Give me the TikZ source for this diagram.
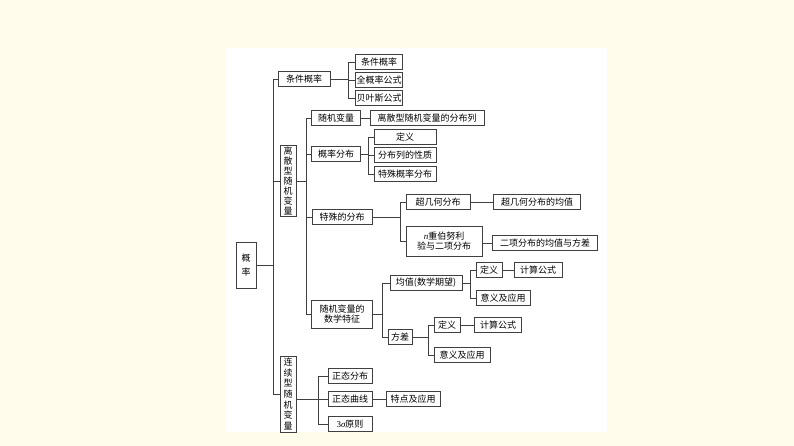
\documentclass[tikz,border=0pt]{standalone}
\usepackage{fontspec}
\setmainfont{Liberation Serif}
\newfontfamily\cjk{Noto Sans CJK SC}
\newfontfamily\lsf{Liberation Serif}
\usetikzlibrary{shadows}
\definecolor{cream}{HTML}{FFFCEB}
\begin{document}
\begin{tikzpicture}[x=1pt,y=-1pt,
  bx/.style={draw=black!75,line width=0.6pt,fill=white,inner sep=0.5pt,font=\cjk\fontsize{9}{10.5}\selectfont,
    drop shadow={shadow xshift=0.8pt,shadow yshift=-0.8pt,fill=black!45,opacity=1},minimum height=15pt,align=center},
  ln/.style={draw=black!75,line width=0.7pt}]
\useasboundingbox (0,0) rectangle (794,446);
\fill[cream] (0,0) rectangle (794,446);
\fill[white] (226,48) rectangle (607,432);
% root
\node[bx,minimum width=20pt,minimum height=46pt,text width=10pt] (root) at (246,265) {概\\[3pt]率};
\node[bx,minimum width=52pt] (tj) at (304,79) {条件概率};
\node[bx,minimum width=47pt] (tj1) at (379,62) {条件概率};
\node[bx,minimum width=47pt] (tj2) at (379,80) {全概率公式};
\node[bx,minimum width=47pt] (tj3) at (379,98) {贝叶斯公式};
\node[bx,minimum width=16pt,minimum height=71pt,text width=9pt,inner sep=0pt,font=\cjk\fontsize{9}{10}\selectfont] (ls) at (288,181) {离\\散\\型\\随\\机\\变\\量};
\node[bx,minimum width=16pt,minimum height=76pt,text width=9pt,inner sep=0pt,font=\cjk\fontsize{9}{10.6}\selectfont] (lx) at (288,394) {连\\续\\型\\随\\机\\变\\量};
% discrete
\node[bx,minimum width=49pt] (sj) at (336,118) {随机变量};
\node[bx,minimum width=114pt] (sj1) at (427,118) {离散型随机变量的分布列};
\node[bx,minimum width=49pt] (gl) at (336,154) {概率分布};
\node[bx,minimum width=62pt] (gl1) at (405,137) {定义};
\node[bx,minimum width=62pt] (gl2) at (405,155) {分布列的性质};
\node[bx,minimum width=62pt] (gl3) at (405,174) {特殊概率分布};
\node[bx,minimum width=60pt] (ts) at (342,217) {特殊的分布};
\node[bx,minimum width=64pt] (cj) at (438,202) {超几何分布};
\node[bx,minimum width=87pt] (cj1) at (537,202) {超几何分布的均值};
\node[bx,minimum width=76pt,minimum height=30pt] (bn) at (444,241) {{\lsf\itshape n}重伯努利\\验与二项分布};
\node[bx,minimum width=105pt] (bn1) at (545,243) {二项分布的均值与方差};
\node[bx,minimum width=61pt,minimum height=28pt] (sz) at (342,314) {随机变量的\\数学特征};
\node[bx,minimum width=72pt] (jz) at (426,283) {均值(数学期望)};
\node[bx,minimum width=26pt] (jz1) at (489,270) {定义};
\node[bx,minimum width=48pt] (jz11) at (538,270) {计算公式};
\node[bx,minimum width=54pt] (jz2) at (503,298) {意义及应用};
\node[bx,minimum width=24pt] (fc) at (400,337) {方差};
\node[bx,minimum width=26pt] (fc1) at (447,325) {定义};
\node[bx,minimum width=47pt] (fc11) at (498,325) {计算公式};
\node[bx,minimum width=56pt] (fc2) at (462,355) {意义及应用};
% continuous
\node[bx,minimum width=44pt] (zt) at (350,376) {正态分布};
\node[bx,minimum width=44pt] (zq) at (350,399) {正态曲线};
\node[bx,minimum width=54pt] (zq1) at (413,399) {特点及应用};
\node[bx,minimum width=44pt] (sg) at (350,424) {{\lsf 3\itshape σ}原则};
% connectors
\draw[ln] (root.east) -- (273,265);
\draw[ln] (tj.west) -| (273,394) -- (lx.west);
\draw[ln] (273,181) -- (ls.west);
\draw[ln] (tj.east) -- (348,79);
\draw[ln] (tj1.west) -| (348,98) -- (tj3.west);
\draw[ln] (348,80) -- (tj2.west);
\draw[ln] (ls.east) -- (306,181);
\draw[ln] (sj.west) -| (306,314) -- (sz.west);
\draw[ln] (306,154) -- (gl.west);
\draw[ln] (306,217) -- (ts.west);
\draw[ln] (sj.east) -- (sj1.west);
\draw[ln] (gl.east) -- (368,154);
\draw[ln] (gl1.west) -| (368,174) -- (gl3.west);
\draw[ln] (368,155) -- (gl2.west);
\draw[ln] (ts.east) -- (400,217);
\draw[ln] (cj.west) -| (400,241) -- (bn.west);
\draw[ln] (cj.east) -- (cj1.west);
\draw[ln] (bn.east |- bn1) -- (bn1.west);
\draw[ln] (sz.east) -- (382,314);
\draw[ln] (jz.west) -| (382,337) -- (fc.west);
\draw[ln] (jz.east) -- (470,283);
\draw[ln] (jz1.west) -| (470,298) -- (jz2.west);
\draw[ln] (jz1.east) -- (jz11.west);
\draw[ln] (fc.east) -- (428,337);
\draw[ln] (fc1.west) -| (428,355) -- (fc2.west);
\draw[ln] (fc1.east) -- (fc11.west);
\draw[ln] (lx.east |- zq.west) -- (zq.west);
\draw[ln] (zt.west) -| (318,424) -- (sg.west);
\draw[ln] (zq.east) -- (zq1.west);
\end{tikzpicture}
\end{document}
